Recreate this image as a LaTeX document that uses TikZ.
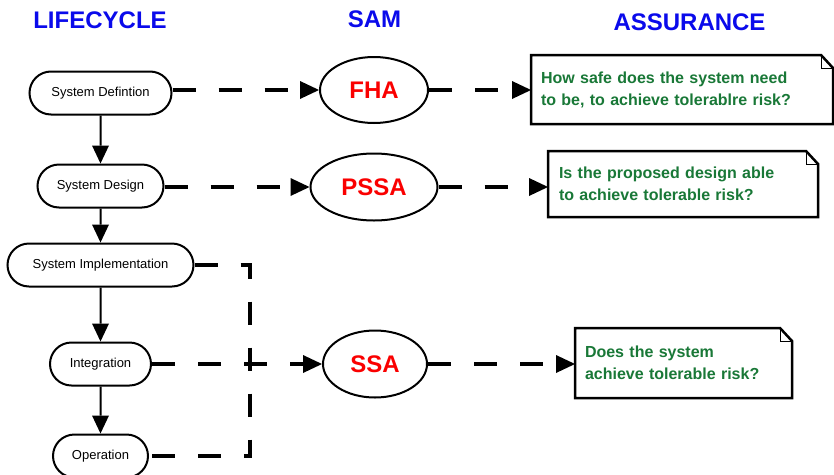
\documentclass[tikz,border=0pt]{standalone}
\usepackage{fontspec}
\setmainfont{Liberation Sans}
\usetikzlibrary{arrows.meta,shapes.geometric,shapes.misc}
\definecolor{headblue}{RGB}{10,10,235}
\definecolor{samred}{RGB}{250,0,0}
\definecolor{notegreen}{RGB}{25,120,55}
\begin{document}
\begin{tikzpicture}[x=1pt,y=-1pt,
  stage/.style={draw, line width=2pt, rounded rectangle, minimum height=43pt,
    inner sep=0pt, font=\fontsize{13}{15}\selectfont},
  sam/.style={draw, line width=2pt, ellipse, inner sep=0pt, text=samred,
    font=\fontsize{24}{28}\selectfont\bfseries},
  head/.style={text=headblue, font=\fontsize{24}{28}\selectfont\bfseries, anchor=base},
  note/.style={inner xsep=10pt, inner ysep=0pt, outer sep=0pt, align=left,
    text=notegreen, font=\fontsize{16}{22}\selectfont\bfseries, anchor=north west},
  noteline/.style={line width=2.5pt, line join=miter},
  foldline/.style={line width=1pt},
  flow/.style={line width=2pt, -{Triangle[length=18pt,width=17pt,line width=0pt]}},
  link/.style={line width=4.5pt, dash pattern=on 23pt off 23pt},
  linkarrow/.style={link, -{Triangle[length=19pt,width=18pt,line width=0pt]}},
]
\useasboundingbox (0,0) rectangle (834,474);
\fill[white] (0,0) rectangle (834,474);

% column headings
\node[head] (hlife) at (100,28) {LIFECYCLE};
\node[head] (hsam) at (374.5,27) {SAM};
\node[head] (hassur) at (689.5,30) {ASSURANCE};

% lifecycle stages
\node[stage, minimum width=142pt] (def) at (100.5,93) {System Defintion};
\node[stage, minimum width=126pt] (design) at (100.5,186) {System Design};
\node[stage, minimum width=186pt] (impl) at (100.5,265) {System Implementation};
\node[stage, minimum width=101pt] (integ) at (100.5,364) {Integration};
\node[stage, minimum width=95pt] (op) at (100.5,456) {Operation};

% safety assessment steps
\node[sam, minimum width=108pt, minimum height=66pt] (fha) at (374,90) {FHA};
\node[sam, minimum width=127pt, minimum height=67pt] (pssa) at (374,187) {PSSA};
\node[sam, minimum width=104pt, minimum height=67pt] (ssa) at (375,364) {SSA};

% assurance questions
\node[note, text width=282pt, minimum height=69pt] (n1) at (531,55)
  {How safe does the system need\\to be, to achieve tolerablre risk?};
\node[note, inner xsep=11pt, text width=248pt, minimum height=66pt] (n2) at (548,151)
  {Is the proposed design able\\to achieve tolerable risk?};
\node[note, text width=197pt, minimum height=70pt] (n3) at (575,328)
  {Does the system\\achieve tolerable risk?};

\foreach \n in {n1,n2,n3} {
  \draw[noteline] (\n.north west) -- ([xshift=-12pt]\n.north east)
    -- ([yshift=-13pt]\n.north east) -- (\n.south east) -- (\n.south west) -- cycle;
  \draw[foldline] ([xshift=-12pt]\n.north east) |- ([yshift=-13pt]\n.north east);
}

% lifecycle flow
\draw[flow] (def) -- (design);
\draw[flow] (design) -- (impl);
\draw[flow] (impl) -- (integ);
\draw[flow] (integ) -- (op);

% links to the assessments and to the questions
\draw[linkarrow] (def.east |- fha) -- (fha.west);
\draw[linkarrow] (fha.east) -- (fha.east -| n1.west);
\draw[linkarrow] (design.east |- pssa) -- (pssa.west);
\draw[linkarrow] (pssa.east) -- (pssa.east -| n2.west);
\draw[linkarrow] (integ.east |- ssa) -- (ssa.west);
\draw[linkarrow] (ssa.east) -- (ssa.east -| n3.west);

% implementation to operation loop
\coordinate (loop) at (250,0);
\draw[link] (impl.east) -- (impl.east -| loop) -- (op.east -| loop) -- (op.east);
\end{tikzpicture}
\end{document}
